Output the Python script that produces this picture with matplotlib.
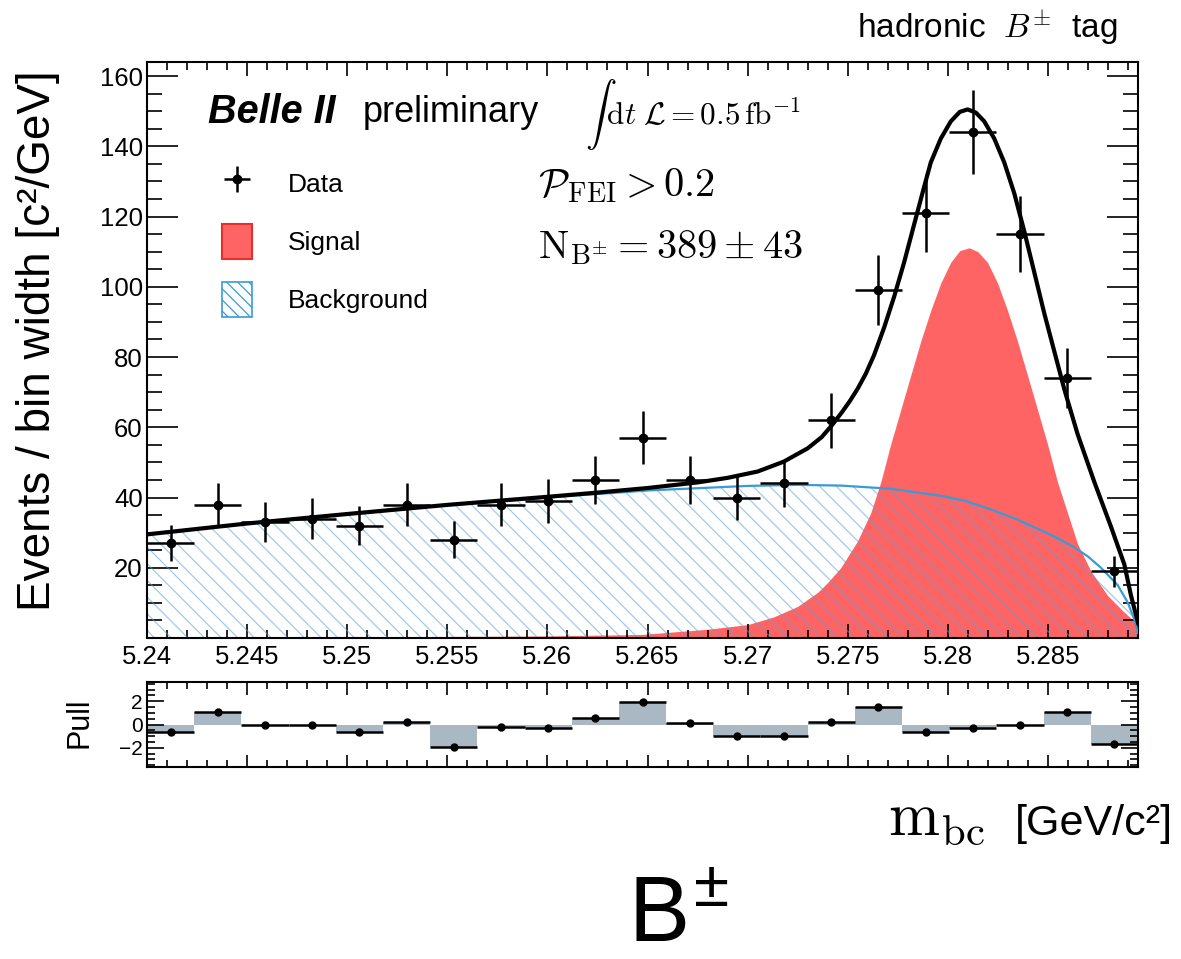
import numpy as np
import matplotlib
matplotlib.use('Agg')
import matplotlib.pyplot as plt
from matplotlib.patches import Patch
from matplotlib.ticker import MultipleLocator

plt.rcParams['font.family'] = ['Liberation Sans', 'DejaVu Sans']
plt.rcParams['mathtext.fontset'] = 'cm'
plt.rcParams['hatch.linewidth'] = 0.9

# --- data ---
mbc_lo, mbc_hi, n_bins = 5.24, 5.2895, 21
counts = [27, 38, 33, 34, 32, 38, 28, 38, 39, 45, 57,
          45, 40, 44, 62, 99, 121, 144, 115, 74, 19]
pulls = [-0.64, 1.06, 0.0, -0.03, -0.64, 0.19, -1.92, -0.22, -0.28, 0.53, 1.92,
         0.14, -1.03, -1.03, 0.19, 1.47, -0.67, -0.31, -0.06, 1.11, -1.67]

# total fit (black)
fit_x = [5.2400, 5.2450, 5.2500, 5.2550, 5.2600, 5.2625, 5.2650, 5.2675,
         5.2690, 5.2705, 5.2718, 5.2730, 5.2737, 5.2742, 5.2747, 5.2751,
         5.2755, 5.2759, 5.27632, 5.27682, 5.27732, 5.27782, 5.27832, 5.27882,
         5.27915, 5.27965, 5.28015, 5.2806, 5.28099, 5.2814, 5.28182, 5.28232,
         5.28282, 5.28332, 5.28382, 5.28432, 5.28482, 5.28532, 5.28582, 5.28648,
         5.28732, 5.28815, 5.28882, 5.28915, 5.2895]
fit_y = [29.5, 32.6, 35.3, 37.9, 40.2, 41.4, 42.7, 44.3,
         45.6, 47.4, 50.2, 54.0, 57.2, 60.5, 64.2, 67.4,
         71.0, 75.2, 80.6, 88.4, 97.2, 107.0, 117.8, 128.5,
         135.4, 142.2, 147.1, 149.8, 150.5, 149.6, 147.1, 142.2,
         135.4, 126.6, 115.8, 104.1, 92.4, 81.6, 70.8, 58.1,
         44.4, 31.7, 20.9, 12.1, 4.3]

# signal component (red)
sig_x = [5.2400, 5.2500, 5.2600, 5.2647, 5.2680, 5.2700, 5.2713, 5.2725,
         5.2735, 5.2740, 5.27465, 5.27548, 5.27615, 5.27665, 5.27715, 5.27765,
         5.27815, 5.27865, 5.27915, 5.27965, 5.28015, 5.2806, 5.28107, 5.2815,
         5.28198, 5.28248, 5.28298, 5.28348, 5.28398, 5.28448, 5.28498, 5.28548,
         5.28598, 5.28648, 5.28715, 5.28798, 5.28882, 5.2894, 5.2895]
sig_y = [0.2, 0.3, 0.6, 1.0, 2.5, 3.8, 6.0, 9.0,
         13.0, 15.8, 20.0, 27.5, 35.6, 44.4, 55.2, 65.0,
         74.8, 84.5, 93.3, 101.1, 107.0, 110.3, 111.1, 110.0,
         107.0, 101.1, 93.3, 84.5, 74.8, 65.0, 55.2, 44.4,
         35.6, 26.8, 19.0, 12.1, 7.3, 4.3, 3.5]

# background component (blue, hatched)
bkg_x = [5.2400, 5.2450, 5.2500, 5.2550, 5.2600, 5.2650, 5.2700, 5.2725,
         5.27465, 5.27715, 5.27965, 5.2809, 5.28215, 5.2834, 5.28465, 5.2855,
         5.28632, 5.2870, 5.28765, 5.28848, 5.28898, 5.28932, 5.2895]
bkg_y = [29.5, 32.6, 35.3, 37.8, 40.0, 42.0, 43.3, 43.6,
         43.4, 42.5, 40.5, 39.0, 36.6, 33.9, 30.7, 28.4,
         25.8, 23.2, 20.0, 15.1, 10.2, 5.3, 1.4]

xtick_vals = [5.24, 5.245, 5.25, 5.255, 5.26, 5.265, 5.27, 5.275, 5.28, 5.285]
xtick_labels = ['5.24', '5.245', '5.25', '5.255', '5.26', '5.265',
                '5.27', '5.275', '5.28', '5.285']
ytick_vals = [20, 40, 60, 80, 100, 120, 140, 160]

edges = np.linspace(mbc_lo, mbc_hi, n_bins + 1)
centers = 0.5 * (edges[1:] + edges[:-1])
binw = edges[1] - edges[0]

red = '#ff6464'
blue = '#3a9ad6'

W, H = 1181, 959
fig = plt.figure(figsize=(W / 100, H / 100), dpi=100)
ax = fig.add_axes([147 / W, 1 - 638 / H, 991 / W, 576 / H])
axp = fig.add_axes([147 / W, 1 - 767 / H, 991 / W, 85 / H])

# main panel
ax.fill_between(sig_x, 0, sig_y, color=red, lw=0, zorder=1)
ax.fill_between(bkg_x, 0, bkg_y, facecolor='none', edgecolor=(0.35, 0.62, 0.85, 0.55),
                hatch='\\\\', lw=0, zorder=2)
ax.plot(bkg_x, bkg_y, color=blue, lw=1.6, zorder=3)
ax.plot(fit_x, fit_y, color='black', lw=3, zorder=4, solid_joinstyle='round')
dat = ax.errorbar(centers, counts, xerr=binw / 2, yerr=np.sqrt(counts), fmt='o',
                  color='black', ms=6, elinewidth=1.8, capsize=0, zorder=5)

ax.set_xlim(mbc_lo, mbc_hi)
ax.set_ylim(0, 164)
ax.set_xticks(xtick_vals)
ax.set_xticklabels(xtick_labels)
ax.xaxis.set_minor_locator(MultipleLocator(0.001))
ax.set_yticks(ytick_vals)
ax.yaxis.set_minor_locator(MultipleLocator(5))
ax.tick_params(which='both', direction='in', top=True, right=True, labelsize=18.5, width=1.2)
ax.tick_params(axis='x', which='major', length=10, pad=5)
ax.tick_params(axis='x', which='minor', length=5.5)
ax.tick_params(axis='y', which='major', length=22, pad=3)
ax.tick_params(axis='y', which='minor', length=11)
for s in ax.spines.values():
    s.set_linewidth(1.5)

sig_patch = Patch(facecolor=red, edgecolor='#e8302a', lw=1.5)
bkg_patch = Patch(facecolor='white', edgecolor=blue, hatch='\\\\\\', lw=1.2)
ax.legend([dat, sig_patch, bkg_patch], ['Data', 'Signal', 'Background'],
          loc='upper left', bbox_to_anchor=(0.0757, 0.8203), frameon=False,
          fontsize=19, handlelength=1.15, handleheight=1.7, labelspacing=0.85,
          handletextpad=1.36, borderpad=0, borderaxespad=0)

ax.text(0.0616, 0.913, 'Belle II', transform=ax.transAxes, fontsize=28.5,
        fontweight='bold', style='italic', va='center')
ax.text(0.218, 0.913, 'preliminary', transform=ax.transAxes, fontsize=26, va='center')
ax.text(0.442, 0.908, r'$\int\,\mathrm{d}t\;\mathcal{L} = 0.5\,\mathrm{fb}^{-1}$',
        transform=ax.transAxes, fontsize=22.5, va='center')
ax.text(0.3946, 0.786, r'$\mathcal{P}_{\mathrm{FEI}} > 0.2$',
        transform=ax.transAxes, fontsize=29, va='center')
ax.text(0.3946, 0.677, r'$\mathrm{N}_{\mathrm{B}^{\pm}} = 389 \pm 43$',
        transform=ax.transAxes, fontsize=29, va='center')

# pull panel
axp.bar(centers, pulls, width=binw, color='#a9b8c2', edgecolor='none', zorder=1)
axp.errorbar(centers, pulls, xerr=binw / 2, fmt='o', color='black', ms=5,
             elinewidth=1.8, capsize=0, zorder=3)
axp.set_xlim(mbc_lo, mbc_hi)
axp.set_ylim(-3.65, 3.65)
axp.set_xticks(xtick_vals)
axp.set_xticklabels([])
axp.xaxis.set_minor_locator(MultipleLocator(0.001))
axp.set_yticks([-2, 0, 2])
axp.yaxis.set_minor_locator(MultipleLocator(0.5))
axp.tick_params(which='both', direction='in', top=True, right=True, labelsize=15, width=1.2)
axp.tick_params(axis='x', which='major', length=9)
axp.tick_params(axis='x', which='minor', length=5)
axp.tick_params(axis='y', which='major', length=12, pad=3)
axp.tick_params(axis='y', which='minor', length=6)
for s in axp.spines.values():
    s.set_linewidth(1.5)

# labels
fig.text(38 / W, 1 - 341 / H, 'Events / bin width [c²/GeV]', rotation=90,
         fontsize=33, ha='center', va='center')
fig.text(80 / W, 1 - 723 / H, 'Pull', rotation=90, fontsize=22, ha='center', va='center')
fig.text(1118 / W, 1 - 27 / H, r'hadronic  $B^{\pm}$  tag', fontsize=24,
         ha='right', va='center')
fig.text(888 / W, 1 - 835 / H, r'$\mathrm{m}_{\mathrm{bc}}$', fontsize=44, va='baseline')
fig.text(1173 / W, 1 - 835 / H, '[GeV/c²]', fontsize=31, ha='right', va='baseline')
fig.text(678 / W, 1 - 942 / H, r'B$^{\mathregular{\pm}}$', fontsize=66, ha='center',
         va='baseline')

fig.savefig('out.png', dpi=100)
